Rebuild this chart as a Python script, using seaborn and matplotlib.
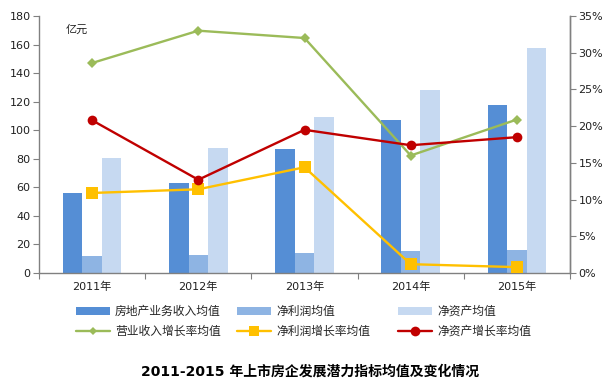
import matplotlib
matplotlib.use("Agg")
import matplotlib.pyplot as plt
import seaborn as sns
import pandas as pd
from matplotlib.patches import Patch
from matplotlib.lines import Line2D

years = ["2011年", "2012年", "2013年", "2014年", "2015年"]
revenue = [56.2, 63.2, 87.0, 107.4, 117.9]
net_profit = [12.1, 12.8, 14.2, 15.6, 16.3]
net_assets = [80.6, 87.7, 109.6, 127.9, 157.8]
rev_growth = [28.6, 33.0, 32.0, 16.0, 20.9]
profit_growth = [10.9, 11.4, 14.4, 1.2, 0.8]
asset_growth = [20.8, 12.7, 19.5, 17.4, 18.5]

bar_names = ["房地产业务收入均值", "净利润均值", "净资产均值"]
line_names = ["营业收入增长率均值", "净利润增长率均值", "净资产增长率均值"]
bar_colors = ["#558ED5", "#8EB4E3", "#C6D9F1"]
line_colors = ["#9BBB59", "#FFC000", "#C00000"]
line_markers = ["D", "s", "o"]
marker_sizes = [5, 8, 7]

sns.set_style("white")
plt.rcParams["font.family"] = ["DejaVu Sans", "Noto Sans CJK SC"]

bars = pd.DataFrame({
    "year": years * 3,
    "value": revenue + net_profit + net_assets,
    "series": [bar_names[0]] * 5 + [bar_names[1]] * 5 + [bar_names[2]] * 5,
})

fig = plt.figure(figsize=(6.16, 3.86), dpi=100)
ax = fig.add_axes([39 / 616, 1 - 273 / 386, (570 - 39) / 616, (273 - 16) / 386])
sns.barplot(data=bars, x="year", y="value", hue="series", order=years,
            hue_order=bar_names, palette=bar_colors, width=0.55, gap=0,
            saturation=1, errorbar=None, legend=False, linewidth=0,
            edgecolor="none", ax=ax)
ax.set_ylim(0, 180)
ax.set_yticks(range(0, 181, 20))

ax2 = ax.twinx()
for vals, c, m, ms in zip([rev_growth, profit_growth, asset_growth], line_colors, line_markers, marker_sizes):
    df = pd.DataFrame({"year": years, "rate": vals})
    sns.pointplot(data=df, x="year", y="rate", order=years, color=c, markers=m,
                  markersize=ms, markeredgewidth=0, linewidth=1.7, errorbar=None, ax=ax2)
ax2.set_ylim(0, 35)
ax2.set_yticks(range(0, 36, 5))
ax2.set_yticklabels([f"{v}%" for v in range(0, 36, 5)])

for a in (ax, ax2):
    a.set_xlim(-0.5, 4.5)
    a.set_xlabel("")
    a.set_ylabel("")
    for s in a.spines.values():
        s.set_color("#808080")
        s.set_linewidth(1)
    a.spines["top"].set_visible(False)
ax2.spines["left"].set_visible(False)
ax2.spines["bottom"].set_visible(False)

ax.set_xticks([i - 0.5 for i in range(6)])
ax.set_xticklabels([])
ax.set_xticks(range(5), minor=True)
ax.set_xticklabels(years, minor=True)
ax.tick_params(axis="x", which="major", length=4, color="#808080", direction="out", bottom=True)
ax.tick_params(axis="x", which="minor", length=0, pad=6, labelsize=8, labelcolor="#202020")
ax.tick_params(axis="y", length=4, color="#808080", direction="out", left=True, labelsize=8, labelcolor="#202020", pad=2)
ax2.tick_params(axis="y", length=4, color="#808080", direction="out", right=True, labelsize=8, labelcolor="#202020", pad=2)
ax.grid(False)
ax2.grid(False)

fig.text(66 / 616, 1 - 30 / 386, "亿元", fontsize=8, va="center", ha="left", color="#202020")

col_x = [76, 237, 398]
legend_ms = [4, 7, 7]
for i in range(3):
    handles = [Patch(facecolor=bar_colors[i], edgecolor="none"),
               Line2D([0], [0], color=line_colors[i], lw=1.7, marker=line_markers[i],
                      markersize=legend_ms[i], markeredgewidth=0)]
    fig.legend(handles, [bar_names[i], line_names[i]], loc="upper left",
               bbox_to_anchor=(col_x[i] / 616, 1 - 305 / 386), frameon=False,
               fontsize=8.5, handlelength=2.9, handleheight=0.6, handletextpad=0.4,
               labelspacing=0.55, borderaxespad=0, borderpad=0)

fig.text(310 / 616, 1 - 372 / 386, "2011-2015 年上市房企发展潜力指标均值及变化情况",
         fontsize=10, fontweight="bold", ha="center", va="center", color="#000000")

fig.savefig("out.png", dpi=100)
